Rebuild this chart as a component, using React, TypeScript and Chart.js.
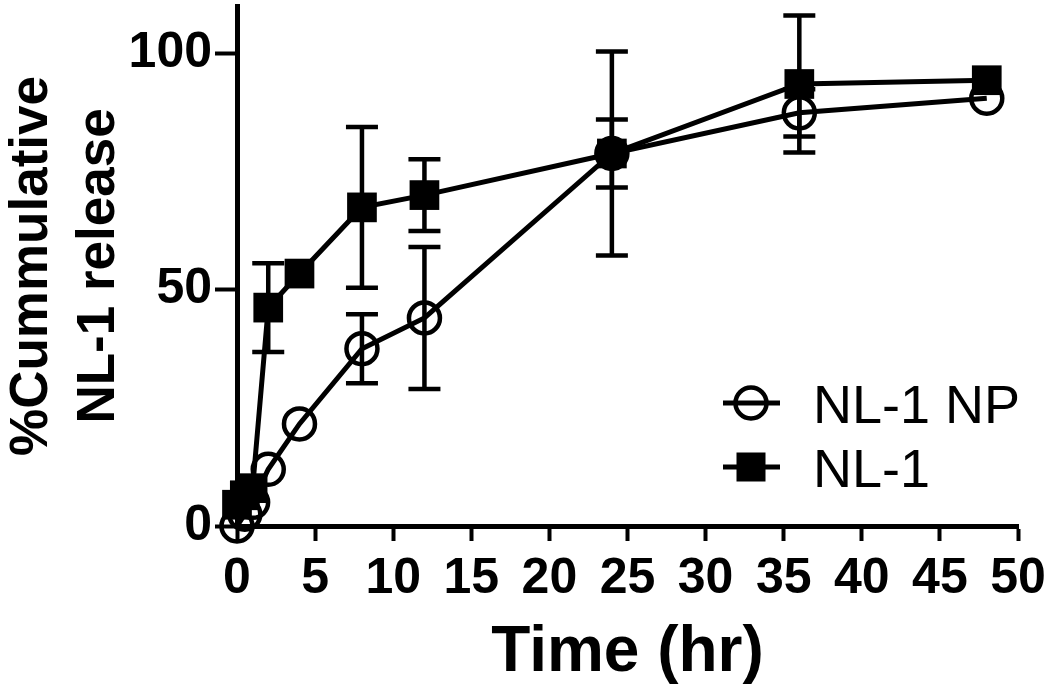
import React, { useEffect, useRef } from 'react';
import Chart from 'chart.js/auto';

// ---- data ----
const timePoints = [0, 0.5, 1, 2, 4, 8, 12, 24, 36, 48];
const npRelease = [0, 2.5, 5, 12, 21.6, 37.5, 44, 78.8, 87.4, 90.5];
const npError = [0, 0, 0, 0, 0, 7.3, 15, 7.2, 5, 0];
const nl1Release = [4.5, 6.5, 8, 46.2, 53.4, 67.4, 70, 78.8, 93.5, 94.3];
const nl1Error = [0, 0, 0, 9.4, 0, 17, 7.6, 21.6, 14.5, 0];
const seriesLabels = ['NL-1 NP', 'NL-1'];
const yTickValues = [0, 50, 100];
const xTickStep = 5;
const xRange = [0, 50];
const yRange = [0, 110];
const xTitle = 'Time (hr)';
const yTitle = ['%Cummulative', 'NL-1 release'];

const FONT = '"Liberation Sans", Arial, sans-serif';

const errorBarPlugin = {
  id: 'errorBars',
  beforeDatasetsDraw(chart: any) {
    const ctx = chart.ctx;
    const yScale = chart.scales.y;
    const errs = [npError, nl1Error];
    const vals = [npRelease, nl1Release];
    ctx.save();
    ctx.strokeStyle = '#000';
    ctx.lineWidth = 4.5;
    ctx.lineCap = 'butt';
    chart.data.datasets.forEach((_: any, di: number) => {
      const meta = chart.getDatasetMeta(di);
      meta.data.forEach((pt: any, i: number) => {
        const e = errs[di][i];
        if (!e) return;
        const v = vals[di][i];
        const x = pt.x;
        const yt = yScale.getPixelForValue(v + e);
        const yb = yScale.getPixelForValue(v - e);
        const cw = 16;
        ctx.beginPath();
        ctx.moveTo(x, yt);
        ctx.lineTo(x, yb);
        ctx.moveTo(x - cw, yt);
        ctx.lineTo(x + cw, yt);
        ctx.moveTo(x - cw, yb);
        ctx.lineTo(x + cw, yb);
        ctx.stroke();
      });
    });
    ctx.restore();
  },
};

const legendPlugin = {
  id: 'customLegend',
  afterDraw(chart: any) {
    const ctx = chart.ctx;
    const lx0 = 723;
    const lx1 = 780;
    const mx = 751;
    const tx = 813;
    const rows = [403, 467];
    ctx.save();
    chart.data.datasets.forEach((ds: any, i: number) => {
      const y = rows[i];
      ctx.strokeStyle = '#000';
      ctx.lineWidth = 5;
      ctx.beginPath();
      ctx.moveTo(lx0, y);
      ctx.lineTo(lx1, y);
      ctx.stroke();
      if (ds.pointStyle === 'circle') {
        ctx.lineWidth = 4.5;
        ctx.beginPath();
        ctx.arc(mx, y, 15.5, 0, Math.PI * 2);
        ctx.stroke();
      } else {
        ctx.fillStyle = '#000';
        ctx.fillRect(mx - 14.5, y - 14.5, 29, 29);
      }
      ctx.fillStyle = '#000';
      ctx.font = `54px ${FONT}`;
      ctx.textAlign = 'left';
      ctx.textBaseline = 'alphabetic';
      ctx.fillText(ds.label, tx, y + 20);
    });
    ctx.restore();
  },
};

export default function App() {
  const ref = useRef<HTMLCanvasElement | null>(null);

  useEffect(() => {
    if (!ref.current) return;
    const chart = new Chart(ref.current, {
      type: 'line',
      data: {
        datasets: [
          {
            label: seriesLabels[0],
            data: timePoints.map((t, i) => ({ x: t, y: npRelease[i] })),
            borderColor: '#000',
            borderWidth: 5,
            pointStyle: 'circle',
            pointRadius: 15.5,
            pointBorderWidth: 4.5,
            pointBorderColor: '#000',
            pointBackgroundColor: 'rgba(0,0,0,0)',
            tension: 0,
            clip: false,
          } as any,
          {
            label: seriesLabels[1],
            data: timePoints.map((t, i) => ({ x: t, y: nl1Release[i] })),
            borderColor: '#000',
            borderWidth: 5,
            pointStyle: 'rect',
            pointRadius: 21,
            pointBorderWidth: 0,
            pointBackgroundColor: '#000',
            tension: 0,
            clip: false,
          } as any,
        ],
      },
      options: {
        responsive: false,
        animation: false,
        layout: { autoPadding: false, padding: { top: 6, right: 32, bottom: 0, left: 0 } },
        plugins: {
          legend: { display: false },
          tooltip: { enabled: false },
        },
        scales: {
          x: {
            type: 'linear',
            min: xRange[0],
            max: xRange[1],
            afterFit: (s: any) => {
              s.height = 165;
              s.paddingLeft = 0;
              s.paddingRight = 0;
            },
            ticks: {
              stepSize: xTickStep,
              color: '#000',
              padding: 8,
              font: { family: FONT, size: 50, weight: 'bold' },
            },
            grid: {
              drawOnChartArea: false,
              color: '#000',
              tickLength: 15,
              tickWidth: 4,
            },
            border: { display: true, color: '#000', width: 5 },
            title: {
              display: true,
              text: xTitle,
              color: '#000',
              font: { family: FONT, size: 64, weight: 'bold', lineHeight: 1 },
              padding: { top: 0, bottom: 6 },
            },
          },
          y: {
            type: 'linear',
            min: yRange[0],
            max: yRange[1],
            afterFit: (s: any) => {
              s.width = 237;
              s.paddingTop = 0;
              s.paddingBottom = 0;
            },
            afterBuildTicks: (s: any) => {
              s.ticks = yTickValues.map((v) => ({ value: v }));
            },
            ticks: {
              color: '#000',
              padding: 3,
              font: { family: FONT, size: 50, weight: 'bold' },
            },
            grid: {
              drawOnChartArea: false,
              color: '#000',
              tickLength: 22,
              tickWidth: 4,
            },
            border: { display: true, color: '#000', width: 5 },
            title: {
              display: true,
              text: yTitle,
              color: '#000',
              font: { family: FONT, size: 53, weight: 'bold', lineHeight: 1.28 },
              padding: { top: -2, bottom: 0 },
            },
          },
        },
      } as any,
      plugins: [errorBarPlugin, legendPlugin],
    });
    return () => chart.destroy();
  }, []);

  return (
    <div style={{ position: 'absolute', left: 0, top: 0, width: 1050, height: 691, background: '#fff' }}>
      <canvas ref={ref} width={1050} height={691} style={{ display: 'block' }} />
    </div>
  );
}
